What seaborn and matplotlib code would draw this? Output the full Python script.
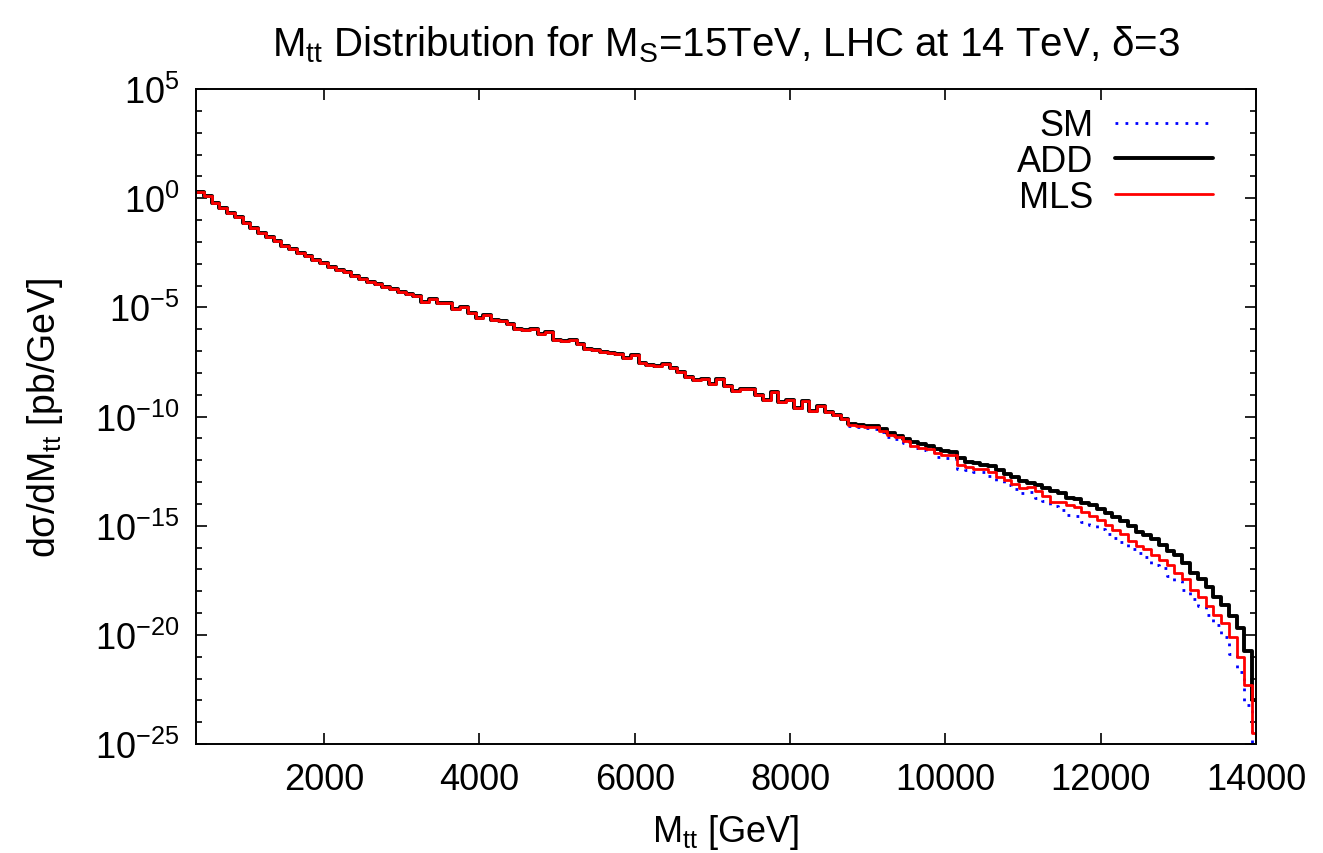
import numpy as np
import pandas as pd
import matplotlib
matplotlib.use("Agg")
import matplotlib.pyplot as plt
import seaborn as sns
from matplotlib.ticker import FixedLocator, FixedFormatter, NullLocator, NullFormatter

# ---------------- data (log10 of dsigma/dM in pb/GeV, 100 GeV bins from 350 GeV) ----------------
bin_start = 350
bin_width = 100
x_max = 14000

# bins 350-8750 GeV: the three curves coincide
shared_log = [
    0.28, 0.12, -0.20, -0.47, -0.70, -0.88, -1.15, -1.38, -1.60, -1.76,
    -1.98, -2.18, -2.35, -2.50, -2.66, -2.82, -2.97, -3.15, -3.28, -3.40,
    -3.55, -3.72, -3.86, -3.94, -4.09, -4.14, -4.30, -4.40, -4.48, -4.75,
    -4.63, -4.81, -4.78, -5.08, -5.00, -5.24, -5.51, -5.36, -5.57, -5.62,
    -5.77, -5.97, -6.03, -6.00, -6.23, -6.11, -6.49, -6.54, -6.49, -6.69,
    -6.89, -6.96, -7.04, -7.10, -7.15, -7.30, -7.19, -7.53, -7.64, -7.68,
    -7.60, -7.80, -7.98, -8.19, -8.32, -8.29, -8.52, -8.26, -8.60, -8.85,
    -8.72, -8.76, -9.02, -9.25, -8.87, -9.33, -9.24, -9.60, -9.30, -9.74,
    -9.54, -9.80, -9.95, -10.10,
]

# bins 8750-14000 GeV
sm_tail_log = [
    -10.45, -10.48, -10.52, -10.55, -10.72, -10.95, -11.05, -11.20, -11.42, -11.52,
    -11.60, -11.85, -11.88, -11.95, -12.40, -12.45, -12.52, -12.55, -12.72, -12.95,
    -13.12, -13.30, -13.52, -13.45, -13.75, -13.85, -14.12, -14.30, -14.50, -14.58,
    -14.85, -14.98, -15.15, -15.40, -15.55, -15.75, -16.05, -16.25, -16.45, -16.80,
    -16.95, -17.30, -17.55, -17.95, -18.35, -18.70, -19.10, -19.55, -20.10, -20.90,
    -21.70, -23.20, -25.50,
]
add_tail_log = [
    -10.36, -10.38, -10.43, -10.42, -10.58, -10.75, -10.89, -11.05, -11.19, -11.26,
    -11.35, -11.50, -11.57, -11.62, -11.90, -12.08, -12.15, -12.20, -12.25, -12.45,
    -12.65, -12.78, -12.95, -13.04, -13.12, -13.28, -13.42, -13.50, -13.72, -13.78,
    -13.95, -14.05, -14.22, -14.40, -14.60, -14.78, -15.03, -15.28, -15.45, -15.63,
    -15.88, -16.14, -16.33, -16.70, -17.15, -17.45, -17.82, -18.25, -18.62, -19.15,
    -19.70, -20.75, -23.00,
]
mls_tail_log = [
    -10.40, -10.42, -10.48, -10.48, -10.66, -10.86, -10.96, -11.10, -11.33, -11.42,
    -11.47, -11.65, -11.75, -11.78, -12.22, -12.33, -12.40, -12.41, -12.55, -12.78,
    -12.90, -13.08, -13.28, -13.22, -13.40, -13.62, -13.90, -13.92, -14.05, -14.15,
    -14.38, -14.55, -14.75, -14.95, -15.18, -15.40, -15.70, -15.92, -16.05, -16.35,
    -16.55, -16.80, -17.18, -17.45, -17.95, -18.25, -18.70, -19.10, -19.45, -20.10,
    -21.00, -22.30, -24.50,
]

series_names = ["SM", "ADD", "MLS"]
series_tails = [sm_tail_log, add_tail_log, mls_tail_log]

x_ticks = [2000, 4000, 6000, 8000, 10000, 12000, 14000]
y_major_exp = [-25, -20, -15, -10, -5, 0, 5]

# ---------------- build long table ----------------
edges = np.append(np.arange(bin_start, x_max, bin_width), x_max)
rows = []
for name, tail in zip(series_names, series_tails):
    vals = 10.0 ** np.array(shared_log + tail)
    ys = np.append(vals, vals[-1])
    for xe, ye in zip(edges, ys):
        rows.append({"M": xe, "dsig": ye, "series": name})
df = pd.DataFrame(rows)

# ---------------- style ----------------
sns.set_theme(style="ticks")
plt.rcParams["font.family"] = ["Liberation Sans", "DejaVu Sans"]
plt.rcParams["mathtext.default"] = "regular"
plt.rcParams["axes.linewidth"] = 1.4
for k in ["text.color", "axes.labelcolor", "xtick.color", "ytick.color",
          "axes.edgecolor"]:
    plt.rcParams[k] = "black"

fig = plt.figure(figsize=(13.23, 8.54), dpi=100)
ax = fig.add_axes([196 / 1323, 1 - 745 / 854, (1256 - 196) / 1323, (745 - 90) / 854])
ax.set_yscale("log")

styles = {
    "SM": dict(color="#0000ff", linewidth=2.0, linestyle=(0, (1, 2.6))),
    "ADD": dict(color="#000000", linewidth=2.8, linestyle="-"),
    "MLS": dict(color="#ff0000", linewidth=2.0, linestyle="-"),
}
for name in series_names:
    sub = df[df["series"] == name]
    sns.lineplot(data=sub, x="M", y="dsig", ax=ax, estimator=None, sort=False,
                 drawstyle="steps-post", label=name, **styles[name])

ax.set_xlim(bin_start, x_max)
ax.set_ylim(1e-25, 1e5)

ax.xaxis.set_major_locator(FixedLocator(x_ticks))
ax.xaxis.set_major_formatter(FixedFormatter([str(t) for t in x_ticks]))
ax.xaxis.set_minor_locator(NullLocator())
ax.yaxis.set_major_locator(FixedLocator([10.0 ** e for e in y_major_exp]))
ax.yaxis.set_major_formatter(FixedFormatter([r"$10^{%d}$" % e for e in y_major_exp]))
ax.yaxis.set_minor_locator(FixedLocator([10.0 ** e for e in range(-25, 6)]))
ax.yaxis.set_minor_formatter(NullFormatter())

ax.tick_params(which="both", direction="in", top=True, right=True, labelsize=26,
               colors="black")
ax.tick_params(which="major", length=8, width=1.2)
ax.tick_params(which="minor", length=4, width=1.2)
ax.tick_params(axis="x", which="major", pad=13)
ax.tick_params(axis="y", which="major", pad=12)

ax.set_xlabel("M$_{tt}$ [GeV]", fontsize=26, labelpad=11)
ax.set_ylabel("dσ/dM$_{tt}$ [pb/GeV]", fontsize=27)
ax.yaxis.set_label_coords(-0.124, 0.5)
ax.set_title("M$_{tt}$ Distribution for M$_{S}$=15TeV, LHC at 14 TeV, δ=3",
             fontsize=29, pad=24)

leg = ax.legend(loc="upper right", bbox_to_anchor=(0.99, 1.02), frameon=False,
                markerfirst=False, fontsize=26, handlelength=2.7,
                handletextpad=0.6, labelspacing=0.02)

fig.savefig("out.png", dpi=100)
